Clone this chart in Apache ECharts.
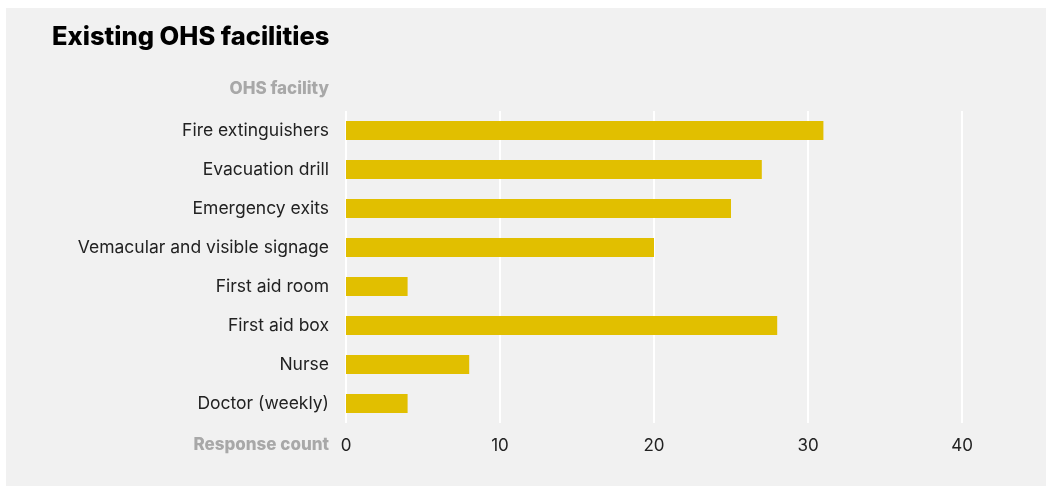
<!DOCTYPE html>
<html>
<head>
<meta charset="utf-8">
<script src="https://cdn.jsdelivr.net/npm/echarts@6/dist/echarts.min.js"></script>
<style>
  html, body { margin: 0; padding: 0; background: #ffffff; }
  #panel { position: absolute; left: 6px; top: 8px; width: 1040px; height: 478px; background: #f1f1f1; }
</style>
</head>
<body>
<div id="panel"></div>
<script>
  // categories top to bottom
  var facilities = ['Fire extinguishers', 'Evacuation drill', 'Emergency exits', 'Vemacular and visible signage',
    'First aid room', 'First aid box', 'Nurse', 'Doctor (weekly)'];
  var counts = [31, 27, 25, 20, 4, 28, 8, 4];
  var xTicks = [0, 10, 20, 30, 40];

  var font = 'Inter, "Open Sans", sans-serif';
  var chart = echarts.init(document.getElementById('panel'));

  chart.setOption({
    backgroundColor: '#f1f1f1',
    title: {
      text: 'Existing OHS facilities',
      left: 41, top: 11,
      textStyle: { fontFamily: font, fontSize: 25.5, fontWeight: 800, color: '#000' }
    },
    graphic: [
      { type: 'text', right: 1040 - 323, top: 72,
        style: { text: 'OHS facility', font: '800 17px ' + font, fill: '#a8a8a8' } },
      { type: 'text', right: 1040 - 323, top: 428,
        style: { text: 'Response count', font: '800 17px ' + font, fill: '#a8a8a8' } }
    ],
    grid: { left: 340, right: 84, top: 103, bottom: 63, containLabel: false },
    xAxis: {
      type: 'value', min: xTicks[0], max: xTicks[xTicks.length - 1], interval: 10,
      axisLine: { show: false }, axisTick: { show: false },
      splitLine: { show: true, lineStyle: { color: '#ffffff', width: 2 } },
      axisLabel: { margin: 14, fontFamily: font, fontSize: 17, color: '#222' }
    },
    yAxis: {
      type: 'category', data: facilities, inverse: true,
      axisLine: { show: false }, axisTick: { show: false },
      axisLabel: { margin: 17, fontFamily: font, fontSize: 17.5, color: '#222', padding: [2, 0, 0, 0] }
    },
    series: [{
      type: 'bar', data: counts, barWidth: '49%',
      itemStyle: { color: '#e1bf00' }
    }]
  });
</script>
</body>
</html>
